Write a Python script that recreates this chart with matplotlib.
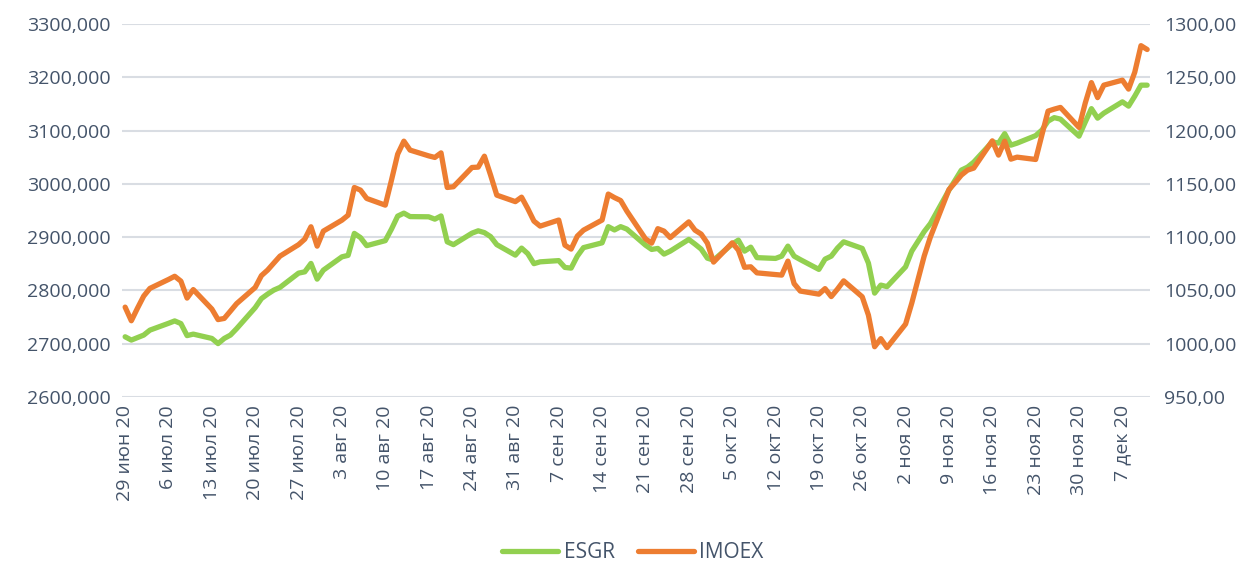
import numpy as np
import pandas as pd
import matplotlib
matplotlib.use("Agg")
import matplotlib.pyplot as plt
import matplotlib.dates as mdates
from matplotlib.ticker import FuncFormatter, MultipleLocator

# ================================
# DATA
# ================================

dates = pd.bdate_range("2020-06-29", "2020-12-11")
dates = dates[dates != pd.Timestamp("2020-11-04")]  # market holiday

esgr = [
    2712.7, 2706.5, 2711.2, 2715.9, 2725.2,
    2738.0, 2742.5, 2737.5, 2714.9, 2717.7,
    2709.6, 2699.9, 2709.6, 2715.9, 2728.0,
    2767.5, 2784.4, 2792.9, 2800.4, 2805.5,
    2832.3, 2834.7, 2850.5, 2821.0, 2837.9,
    2862.9, 2865.7, 2906.9, 2899.0, 2883.9,
    2893.3, 2915.0, 2939.4, 2945.0, 2938.5,
    2938.1, 2933.7, 2939.7, 2891.1, 2885.8,
    2907.4, 2911.8, 2908.4, 2900.9, 2885.8,
    2866.1, 2879.3, 2868.9, 2850.1, 2853.5,
    2855.8, 2843.0, 2841.7, 2864.2, 2880.2,
    2889.2, 2919.6, 2913.4, 2919.6, 2915.0,
    2884.9, 2876.8, 2878.7, 2868.0, 2873.6,
    2895.6, 2886.8, 2877.4, 2860.4, 2856.7,
    2886.8, 2894.3, 2873.6, 2881.1, 2861.4,
    2859.9, 2864.2, 2883.0, 2864.2, 2857.7,
    2839.3, 2858.6, 2864.2, 2879.3, 2891.1,
    2878.7, 2851.1, 2794.7, 2809.8, 2806.9,
    2844.1, 2873.6, 2910.3, 2925.3,
    2988.2, 3006.9, 3025.8, 3031.4, 3040.8,
    3078.9, 3076.5, 3094.3, 3072.7, 3076.5,
    3090.6, 3100.9, 3117.8, 3124.4, 3121.6,
    3089.6, 3115.9, 3141.3, 3123.4, 3132.8,
    3154.1, 3146.0, 3164.8, 3185.4, 3185.4,
]

imoex = [
    1034.2, 1021.4, 1033.3, 1044.6, 1051.8,
    1060.2, 1063.2, 1058.6, 1042.7, 1050.7,
    1032.4, 1022.5, 1023.6, 1030.5, 1037.5,
    1052.7, 1063.8, 1069.0, 1075.6, 1082.1,
    1092.9, 1098.1, 1109.7, 1091.5, 1105.6,
    1115.9, 1120.6, 1146.6, 1144.1, 1136.3,
    1130.0, 1153.5, 1177.9, 1190.1, 1181.7,
    1176.3, 1174.8, 1179.1, 1146.6, 1147.3,
    1165.4, 1165.7, 1176.0, 1158.2, 1139.4,
    1133.3, 1137.5, 1126.8, 1115.0, 1110.3,
    1116.0, 1092.4, 1088.7, 1100.9, 1106.5,
    1116.0, 1140.4, 1137.1, 1134.3, 1124.4,
    1098.4, 1094.3, 1107.9, 1105.6, 1099.5,
    1114.3, 1106.5, 1102.8, 1094.3, 1076.5,
    1094.6, 1087.8, 1071.6, 1072.1, 1066.4,
    1064.8, 1064.3, 1077.4, 1056.3, 1049.3,
    1046.4, 1051.6, 1044.1, 1051.1, 1058.9,
    1043.9, 1026.7, 997.0, 1004.6, 996.2,
    1018.3, 1038.0, 1082.1, 1100.0,
    1144.6, 1151.2, 1158.2, 1162.9, 1164.8,
    1190.4, 1177.0, 1190.1, 1173.2, 1175.1,
    1172.9, 1195.8, 1218.3, 1220.2, 1221.8,
    1203.0, 1225.8, 1245.1, 1231.0, 1242.7,
    1247.4, 1239.0, 1254.9, 1279.8, 1276.2,
]

months_ru = {6: "июн", 7: "июл", 8: "авг", 9: "сен", 10: "окт", 11: "ноя", 12: "дек"}

# ================================
# STYLE
# ================================

plt.rcParams["font.family"] = ["Open Sans", "DejaVu Sans"]
text_color = "#44546A"
green = "#92D050"
orange = "#ED7D31"

fig = plt.figure(figsize=(12.53, 5.62), dpi=100)
ax = fig.add_axes([0.0974, 0.294, 0.8206, 0.663])
ax2 = ax.twinx()

ln1, = ax.plot(dates, esgr, color=green, lw=3.8, solid_joinstyle="round",
               solid_capstyle="round", label="ESGR", zorder=3)
ln2, = ax2.plot(dates, imoex, color=orange, lw=3.8, solid_joinstyle="round",
                solid_capstyle="round", label="IMOEX", zorder=3)

ax.set_ylim(2600, 3300)
ax2.set_ylim(950, 1300)
ax.yaxis.set_major_locator(MultipleLocator(100))
ax2.yaxis.set_major_locator(MultipleLocator(50))
ax.yaxis.set_major_formatter(FuncFormatter(lambda v, p: f"{v:.3f}".replace(".", ",")))
ax2.yaxis.set_major_formatter(FuncFormatter(lambda v, p: f"{v:.2f}".replace(".", ",")))

ax.set_xlim(pd.Timestamp("2020-06-28 12:00"), pd.Timestamp("2020-12-11 12:00"))
ax.xaxis.set_major_locator(mdates.WeekdayLocator(byweekday=mdates.MO))
ax.xaxis.set_major_formatter(FuncFormatter(
    lambda v, p: "{} {} {}".format(mdates.num2date(v).day,
                                   months_ru[mdates.num2date(v).month],
                                   mdates.num2date(v).year % 100)))

ax.grid(axis="y", color="#D9DDE3", lw=1.5, zorder=0)
for a in (ax, ax2):
    for s in a.spines.values():
        s.set_visible(False)
    a.tick_params(length=0, labelsize=14, colors=text_color)
ax.tick_params(axis="x", rotation=90, pad=6)
ax.tick_params(axis="y", pad=8)
ax2.tick_params(axis="y", pad=10)

fig.legend(handles=[ln1, ln2], loc="lower center", bbox_to_anchor=(0.505, -0.035),
           ncol=2, frameon=False, fontsize=15, labelcolor=text_color,
           handlelength=2.7, handletextpad=0.25, columnspacing=1.1)

fig.savefig("out.png", dpi=100)
